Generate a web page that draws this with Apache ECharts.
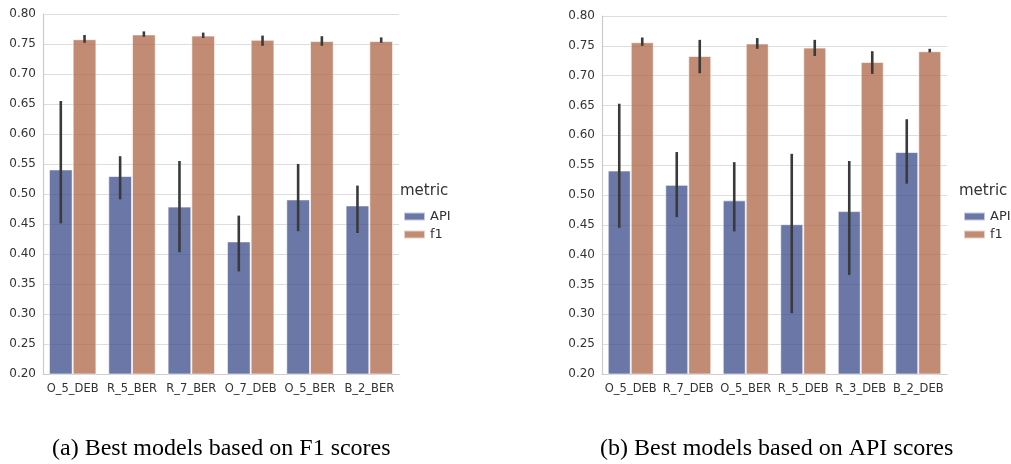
<!DOCTYPE html>
<html><head><meta charset="utf-8">
<script src="https://cdn.jsdelivr.net/npm/echarts@6/dist/echarts.min.js"></script>
<style>html,body{margin:0;padding:0;background:#fff}#c{width:1011px;height:464px}</style>
</head><body><div id="c"></div>
<script>
// Chart (a): best models based on F1 scores
const catsA = ['O_5_DEB','R_5_BER','R_7_BER','O_7_DEB','O_5_BER','B_2_BER'];
const apiA  = [0.541, 0.530, 0.479, 0.421, 0.491, 0.481];
const apiALo = [0.451, 0.491, 0.403, 0.371, 0.438, 0.435];
const apiAHi = [0.655, 0.563, 0.555, 0.464, 0.550, 0.514];
const f1A   = [0.758, 0.766, 0.764, 0.757, 0.755, 0.755];
const f1ALo = [0.752, 0.762, 0.760, 0.747, 0.747, 0.752];
const f1AHi = [0.765, 0.771, 0.769, 0.764, 0.763, 0.761];
// Chart (b): best models based on API scores
const catsB = ['O_5_DEB','R_7_DEB','O_5_BER','R_5_DEB','R_3_DEB','B_2_DEB'];
const apiB  = [0.541, 0.517, 0.491, 0.451, 0.473, 0.572];
const apiBLo = [0.445, 0.463, 0.439, 0.302, 0.366, 0.519];
const apiBHi = [0.653, 0.572, 0.555, 0.569, 0.557, 0.627];
const f1B   = [0.756, 0.733, 0.754, 0.747, 0.723, 0.741];
const f1BLo = [0.750, 0.704, 0.745, 0.733, 0.703, 0.739];
const f1BHi = [0.764, 0.760, 0.763, 0.760, 0.741, 0.745];
const yTicks = ['0.20','0.25','0.30','0.35','0.40','0.45','0.50','0.55','0.60','0.65','0.70','0.75','0.80'];
const captions = ['(a) Best models based on F1 scores', '(b) Best models based on API scores'];
const legendTitle = 'metric';

const C_API = 'rgba(62,79,140,0.77)';
const C_F1 = 'rgba(176,106,74,0.77)';
const FONT = 'DejaVu Sans';

function errData(lo, hi){ return lo.map((v,i)=>[i, v, hi[i]]); }
function errSeries(name, lo, hi, idx, side){
  return {
    type:'custom', name: name+'_err', xAxisIndex: idx, yAxisIndex: idx, z: 10,
    silent:true, legendHoverLink:false,
    data: errData(lo, hi),
    renderItem: function(params, api){
      const band = api.size([1,0])[0];
      const p1 = api.coord([api.value(0), api.value(1)]);
      const p2 = api.coord([api.value(0), api.value(2)]);
      const x = p1[0] + side*0.2*band;
      return {type:'line', shape:{x1:x,y1:p1[1],x2:x,y2:p2[1]},
        style:{stroke:'#3a3a3a', lineWidth:2.6}};
    }
  };
}
function barSeries(name, vals, idx, color){
  return {type:'bar', name:name, xAxisIndex:idx, yAxisIndex:idx, data:vals,
    barGap:'0%', barCategoryGap:'20%',
    itemStyle:{color:color, borderColor:'rgba(255,255,255,0.6)', borderWidth:1}};
}
function xAx(cats, idx){
  return {type:'category', gridIndex:idx, data:cats,
    axisLine:{lineStyle:{color:'#cccccc', width:1.2}}, axisTick:{show:false},
    axisLabel:{color:'#333', fontFamily:FONT, fontSize:11.5, margin:9, interval:0}};
}
function yAx(idx){
  return {type:'value', gridIndex:idx, min:0.2, max:0.8, interval:0.05,
    axisLine:{show:true, lineStyle:{color:'#cccccc', width:1.2}}, axisTick:{show:false},
    splitLine:{lineStyle:{color:'#dddddd', width:1.2}},
    axisLabel:{color:'#333', fontFamily:FONT, fontSize:12, margin:7,
      formatter: v => yTicks[Math.round((v-0.2)/0.05)] }};
}
function legendAt(x){
  return {left:x, top:205, orient:'vertical', itemWidth:21, itemHeight:8, itemGap:5, icon:'rect',
    data:['API','f1'], textStyle:{fontFamily:FONT, fontSize:13, color:'#333'}, selectedMode:false};
}
const chart = echarts.init(document.getElementById('c'), null, {renderer:'canvas'});
chart.setOption({
  animation:false,
  grid:[{left:43, top:14, width:356, height:360},{left:602, top:16, width:345, height:358}],
  xAxis:[xAx(catsA,0), xAx(catsB,1)],
  yAxis:[yAx(0), yAx(1)],
  legend:[legendAt(398), legendAt(958)],
  graphic:[
    {type:'text', left:400, top:184, style:{text:legendTitle, font:'15px "DejaVu Sans"', fill:'#333'}},
    {type:'text', left:959, top:184, style:{text:legendTitle, font:'15px "DejaVu Sans"', fill:'#333'}},
    {type:'text', left:52, top:437, style:{text:captions[0], font:'24px "Liberation Serif"', fill:'#000'}},
    {type:'text', left:600, top:437, style:{text:captions[1], font:'24px "Liberation Serif"', fill:'#000'}}
  ],
  series:[
    barSeries('API', apiA, 0, C_API), barSeries('f1', f1A, 0, C_F1),
    barSeries('API', apiB, 1, C_API), barSeries('f1', f1B, 1, C_F1),
    errSeries('API', apiALo, apiAHi, 0, -1), errSeries('f1', f1ALo, f1AHi, 0, 1),
    errSeries('API', apiBLo, apiBHi, 1, -1), errSeries('f1', f1BLo, f1BHi, 1, 1)
  ]
});
</script></body></html>
